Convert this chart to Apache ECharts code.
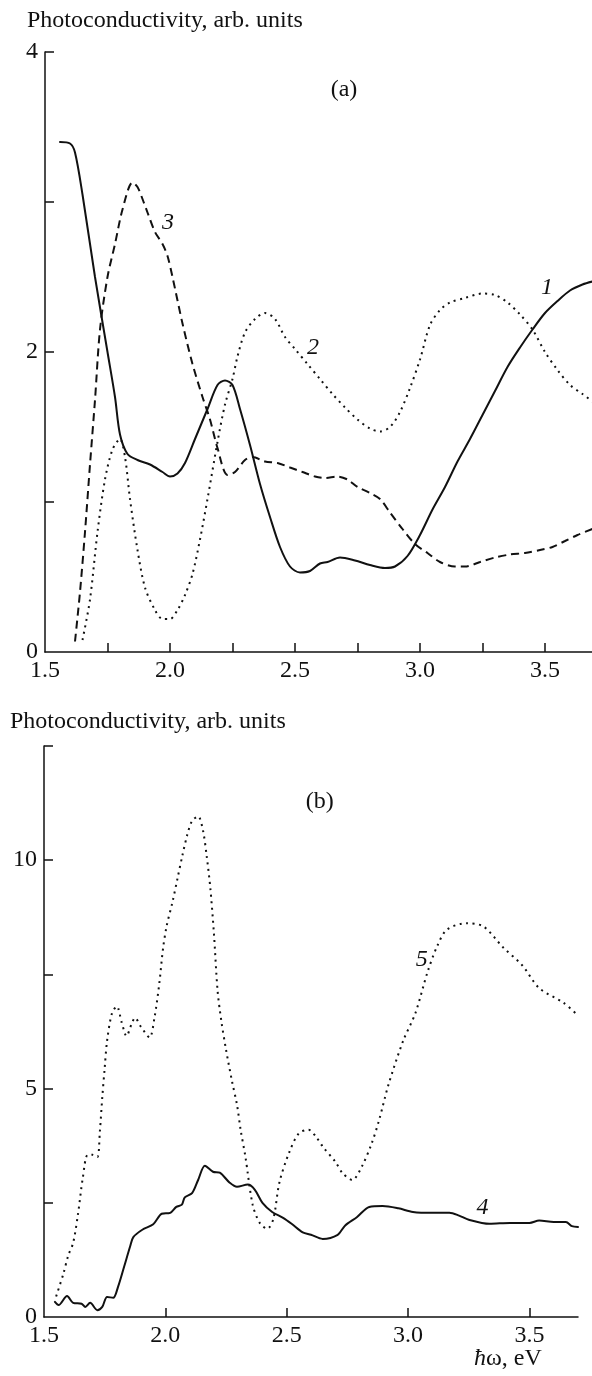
<!DOCTYPE html>
<html>
<head>
<meta charset="utf-8">
<script src="https://cdn.jsdelivr.net/npm/echarts@6/dist/echarts.min.js"></script>
<style>
  html, body { margin: 0; padding: 0; background: #fff; }
  #chart { width: 592px; height: 1376px; }
</style>
</head>
<body>
<div id="chart"></div>
<script>
// Panel (a): photoconductivity spectra, curves 1-3
const energy1 = [1.56,1.60,1.62,1.65,1.70,1.75,1.78,1.80,1.83,1.87,1.92,1.97,2.00,2.03,2.06,2.10,2.15,2.19,2.22,2.25,2.28,2.32,2.36,2.40,2.44,2.48,2.52,2.56,2.60,2.63,2.68,2.74,2.80,2.86,2.90,2.95,3.00,3.05,3.10,3.15,3.20,3.25,3.30,3.35,3.40,3.45,3.50,3.55,3.60,3.65,3.69];
const pc1 =     [3.40,3.39,3.33,3.05,2.50,2.00,1.70,1.45,1.32,1.28,1.25,1.20,1.17,1.19,1.26,1.42,1.62,1.78,1.81,1.78,1.62,1.38,1.12,0.90,0.70,0.57,0.53,0.54,0.59,0.60,0.63,0.61,0.58,0.56,0.57,0.64,0.78,0.95,1.10,1.27,1.42,1.58,1.74,1.90,2.03,2.15,2.26,2.34,2.41,2.45,2.47];

const energy2 = [1.65,1.68,1.71,1.74,1.77,1.80,1.82,1.84,1.87,1.90,1.94,1.97,2.00,2.03,2.06,2.09,2.12,2.15,2.19,2.22,2.25,2.27,2.30,2.34,2.38,2.42,2.46,2.50,2.55,2.60,2.65,2.70,2.75,2.80,2.84,2.88,2.92,2.96,3.00,3.04,3.08,3.12,3.18,3.25,3.30,3.35,3.40,3.45,3.50,3.55,3.60,3.65,3.69];
const pc2 =     [0.08,0.35,0.80,1.15,1.35,1.42,1.30,1.02,0.68,0.43,0.28,0.22,0.22,0.28,0.38,0.52,0.75,1.02,1.40,1.65,1.82,1.97,2.13,2.22,2.26,2.22,2.10,2.02,1.92,1.82,1.72,1.63,1.55,1.49,1.47,1.50,1.60,1.76,1.95,2.18,2.28,2.33,2.36,2.39,2.38,2.33,2.25,2.15,2.00,1.88,1.78,1.72,1.67];

const energy3 = [1.62,1.64,1.66,1.68,1.70,1.72,1.75,1.78,1.81,1.85,1.87,1.89,1.91,1.94,1.97,1.99,2.01,2.05,2.09,2.13,2.16,2.19,2.23,2.26,2.30,2.33,2.38,2.43,2.48,2.53,2.58,2.62,2.67,2.71,2.75,2.80,2.84,2.88,2.93,2.98,3.03,3.08,3.14,3.18,3.24,3.30,3.36,3.42,3.48,3.53,3.58,3.63,3.69];
const pc3 =     [0.07,0.40,0.80,1.25,1.68,2.15,2.50,2.72,2.95,3.13,3.10,3.02,2.93,2.80,2.72,2.64,2.50,2.19,1.92,1.70,1.55,1.36,1.18,1.20,1.28,1.30,1.27,1.26,1.23,1.20,1.17,1.16,1.17,1.15,1.10,1.06,1.02,0.93,0.82,0.72,0.66,0.60,0.57,0.57,0.60,0.63,0.65,0.66,0.68,0.70,0.74,0.78,0.82];

// Panel (b): curves 4 and 5
const energy4 = [1.545,1.56,1.595,1.62,1.655,1.67,1.69,1.72,1.74,1.76,1.785,1.805,1.83,1.855,1.868,1.905,1.95,1.985,2.02,2.045,2.068,2.08,2.11,2.135,2.163,2.196,2.224,2.265,2.295,2.34,2.368,2.40,2.44,2.485,2.52,2.566,2.60,2.648,2.71,2.74,2.79,2.84,2.895,2.96,3.02,3.10,3.17,3.21,3.25,3.335,3.42,3.50,3.54,3.60,3.65,3.675,3.70];
const pc4 =     [0.33,0.26,0.46,0.31,0.29,0.22,0.31,0.15,0.22,0.44,0.42,0.66,1.10,1.55,1.75,1.91,2.03,2.26,2.28,2.41,2.46,2.62,2.71,3.00,3.31,3.18,3.16,2.94,2.85,2.90,2.79,2.50,2.30,2.17,2.04,1.85,1.80,1.71,1.80,2.00,2.19,2.41,2.43,2.38,2.30,2.28,2.28,2.22,2.13,2.04,2.06,2.06,2.11,2.08,2.08,1.99,1.97];

const energy5 = [1.55,1.58,1.60,1.62,1.64,1.66,1.68,1.70,1.72,1.73,1.74,1.75,1.76,1.78,1.80,1.82,1.84,1.86,1.875,1.90,1.935,1.955,1.975,1.99,2.005,2.03,2.05,2.07,2.09,2.11,2.135,2.155,2.17,2.185,2.20,2.215,2.23,2.25,2.275,2.295,2.31,2.33,2.36,2.39,2.42,2.445,2.47,2.51,2.55,2.59,2.62,2.65,2.70,2.73,2.77,2.81,2.85,2.88,2.92,2.98,3.03,3.08,3.12,3.16,3.24,3.31,3.39,3.47,3.54,3.64,3.70];
const pc5 =     [0.45,0.95,1.35,1.62,2.25,3.05,3.55,3.55,3.50,4.05,4.80,5.45,6.05,6.65,6.80,6.45,6.15,6.40,6.55,6.35,6.12,6.55,7.30,8.05,8.55,9.10,9.60,10.10,10.55,10.86,10.96,10.65,10.10,9.40,8.40,7.15,6.50,5.85,5.15,4.65,4.10,3.50,2.45,2.05,1.93,2.15,2.95,3.60,4.02,4.10,3.95,3.72,3.40,3.15,3.00,3.30,3.80,4.30,5.10,6.05,6.65,7.55,8.12,8.48,8.62,8.55,8.10,7.70,7.20,6.88,6.60];

// Axis ticks and tick labels
const xTicksA = [1.75, 2.0, 2.25, 2.5, 2.75, 3.0, 3.25, 3.5];
const xLabels = [1.5, 2.0, 2.5, 3.0, 3.5];
const xTicksB = [2.0, 2.5, 3.0, 3.5];
const yTicksA = [1, 2, 3, 4];
const yLabelsA = [0, 2, 4];
const yTicksB = [2.5, 5, 7.5, 10, 12.5];
const yLabelsB = [0, 5, 10];

const ink = '#111';
const serif = '"Liberation Serif", "DejaVu Serif", serif';
const fs = 24;
const zip = (xs, ys) => xs.map((x, i) => [x, ys[i]]);

function xAxisOf(gridIndex, max, ticks) {
  return {
    type: 'value', gridIndex, min: 1.5, max,
    axisLine: { show: true, onZero: false, lineStyle: { color: ink, width: 1.5 } },
    axisTick: { show: true, inside: true, length: 9, customValues: ticks, lineStyle: { color: ink, width: 1.5 } },
    axisLabel: { customValues: xLabels, formatter: v => v.toFixed(1), color: ink, fontFamily: serif, fontSize: fs, margin: 7 },
    splitLine: { show: false }
  };
}
function yAxisOf(gridIndex, max, ticks, labels) {
  return {
    type: 'value', gridIndex, min: 0, max,
    axisLine: { show: true, onZero: false, lineStyle: { color: ink, width: 1.5 } },
    axisTick: { show: true, inside: true, length: 9, customValues: ticks, lineStyle: { color: ink, width: 1.5 } },
    axisLabel: { customValues: labels, formatter: v => String(v), color: ink, fontFamily: serif, fontSize: fs, margin: 7 },
    splitLine: { show: false }
  };
}
function curve(name, xi, data, type) {
  return {
    name, type: 'line', xAxisIndex: xi, yAxisIndex: xi, data,
    showSymbol: false, smooth: 0.3, silent: true, animation: false,
    lineStyle: { color: ink, width: 2, type, cap: type === 'solid' ? 'round' : 'butt' }
  };
}
// Curve numbers and panel letters, placed in data coordinates
function notes(xi, items) {
  return {
    type: 'scatter', xAxisIndex: xi, yAxisIndex: xi, symbolSize: 1, silent: true, animation: false,
    itemStyle: { color: 'rgba(0,0,0,0)', opacity: 1 },
    label: {
      show: true, position: 'inside', formatter: '{b}', color: ink, opacity: 1,
      textBorderWidth: 0, fontFamily: serif, fontSize: fs
    },
    data: items.map(([n, x, y, it]) => ({
      name: n, value: [x, y],
      label: { fontStyle: it ? 'italic' : 'normal' }
    }))
  };
}

const chart = echarts.init(document.getElementById('chart'), null, { renderer: 'canvas' });
chart.setOption({
  backgroundColor: '#fff',
  animation: false,
  grid: [
    { left: 45, top: 52, width: 547, height: 600 },
    { left: 44, top: 746, width: 534, height: 571 }
  ],
  xAxis: [xAxisOf(0, 3.688, xTicksA), xAxisOf(1, 3.7, xTicksB)],
  yAxis: [yAxisOf(0, 4, yTicksA, yLabelsA), yAxisOf(1, 12.5, yTicksB, yLabelsB)],
  series: [
    curve('1', 0, zip(energy1, pc1), 'solid'),
    curve('2', 0, zip(energy2, pc2), [2, 4.5]),
    curve('3', 0, zip(energy3, pc3), [8, 5]),
    curve('4', 1, zip(energy4, pc4), 'solid'),
    curve('5', 1, zip(energy5, pc5), [2, 4.5]),
    notes(0, [['(a)', 2.696, 3.75, false], ['1', 3.508, 2.43, true], ['2', 2.572, 2.03, true], ['3', 1.992, 2.86, true]]),
    notes(1, [['(b)', 2.636, 11.27, false], ['5', 3.056, 7.83, true], ['4', 3.307, 2.39, true]])
  ],
  graphic: [
    { type: 'text', left: 27, top: 9, style: { text: 'Photoconductivity, arb. units', font: fs + 'px ' + serif, fill: ink } },
    { type: 'text', left: 10, top: 710, style: { text: 'Photoconductivity, arb. units', font: fs + 'px ' + serif, fill: ink } },
    { type: 'text', left: 474, top: 1347, style: {
        text: '{i|ħ}ω, eV', font: fs + 'px ' + serif, fill: ink,
        rich: { i: { fontStyle: 'italic', fontFamily: serif, fontSize: fs, fill: ink } }
    } }
  ]
});
</script>
</body>
</html>
